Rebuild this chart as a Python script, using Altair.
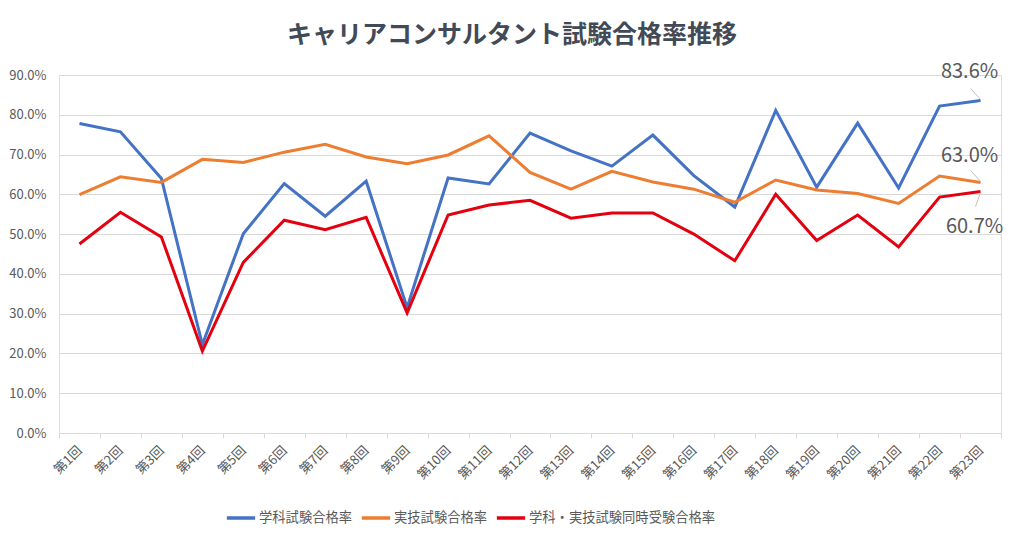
import altair as alt
import pandas as pd

rounds = [f"第{i}回" for i in range(1, 24)]
gakka = [77.8, 75.7, 64.0, 22.2, 50.1, 62.7, 54.5, 63.3, 31.5, 64.1, 62.6, 75.4,
         70.9, 67.1, 74.9, 64.7, 56.8, 81.1, 61.8, 77.9, 61.6, 82.2, 83.6]
jitsugi = [59.9, 64.4, 63.0, 68.8, 68.0, 70.6, 72.6, 69.4, 67.7, 69.9, 74.7, 65.5,
           61.3, 65.8, 63.1, 61.3, 58.0, 63.6, 61.1, 60.2, 57.7, 64.6, 63.0]
douji = [47.5, 55.5, 49.3, 20.6, 42.9, 53.5, 51.1, 54.2, 30.2, 54.8, 57.3, 58.5,
         54.0, 55.3, 55.3, 50.0, 43.3, 60.0, 48.4, 54.8, 46.8, 59.3, 60.7]
series_names = ["学科試験合格率", "実技試験合格率", "学科・実技試験同時受験合格率"]
series_colors = ["#4472C4", "#ED7D31", "#E3000F"]

rows = []
for name, vals in zip(series_names, [gakka, jitsugi, douji]):
    for i, (r, v) in enumerate(zip(rounds, vals)):
        rows.append({"回": r, "order": i, "系列": name, "率": v / 100})
df = pd.DataFrame(rows)

last = pd.DataFrame({
    "回": [rounds[-1]] * 3,
    "系列": series_names,
    "率": [gakka[-1] / 100, jitsugi[-1] / 100, douji[-1] / 100],
    "label": [f"{gakka[-1]:.1f}%", f"{jitsugi[-1]:.1f}%", f"{douji[-1]:.1f}%"],
})

FONT = "Noto Sans CJK JP"
GRAY = "#595959"

xenc = alt.X("回:N", sort=rounds, title=None,
             scale=alt.Scale(type="band", paddingInner=0, paddingOuter=0, domain=rounds),
             axis=alt.Axis(labelAngle=-45, labelAlign="right", labelBaseline="middle",
                           labelFontSize=13, labelColor=GRAY, labelFont=FONT,
                           tickBand="extent", tickColor="#d9d9d9", tickSize=5,
                           domainColor="#d9d9d9", grid=False, labelPadding=10,
                           labelOverlap=False))
yenc = alt.Y("率:Q", title=None,
             scale=alt.Scale(domain=[0, 0.9], nice=False, zero=True),
             axis=alt.Axis(format=".1%", values=[i / 10 for i in range(10)],
                           labelFontSize=13, labelColor=GRAY, labelFont=FONT,
                           ticks=False, domain=False, labelPadding=13,
                           gridColor="#d9d9d9", gridWidth=1, labelOverlap=False))

color = alt.Color("系列:N", sort=series_names,
                  scale=alt.Scale(domain=series_names, range=series_colors),
                  legend=alt.Legend(title=None, orient="none", direction="horizontal",
                                    legendX=166, legendY=427, labelLimit=0,
                                    symbolType="stroke", symbolStrokeWidth=3.5,
                                    symbolSize=800, labelFontSize=13.3, labelColor=GRAY,
                                    labelFont=FONT, columnPadding=1, labelOffset=2))

lines = alt.Chart(df).mark_line(strokeWidth=3, strokeJoin="miter").encode(
    x=xenc, y=yenc, color=color, order="order:Q")

base_last = alt.Chart(last)
lbl_gakka = base_last.transform_filter(alt.datum["系列"] == series_names[0]).mark_text(
    fontSize=20, color=GRAY, font=FONT, dx=-11, dy=-28).encode(x=xenc, y=yenc, text="label:N")
lbl_jitsu = base_last.transform_filter(alt.datum["系列"] == series_names[1]).mark_text(
    fontSize=20, color=GRAY, font=FONT, dx=-11, dy=-26).encode(x=xenc, y=yenc, text="label:N")
lbl_douji = base_last.transform_filter(alt.datum["系列"] == series_names[2]).mark_text(
    fontSize=20, color=GRAY, font=FONT, dx=-6, dy=35).encode(x=xenc, y=yenc, text="label:N")

lead_up = base_last.transform_filter(alt.datum["系列"] != series_names[2]).mark_rule(
    color="#bfbfbf", strokeWidth=1, xOffset=-10, yOffset=-12, x2Offset=0, y2Offset=-1).encode(
    x=xenc, y=yenc, x2="回:N", y2="率:Q")
lead_dn = base_last.transform_filter(alt.datum["系列"] == series_names[2]).mark_rule(
    color="#bfbfbf", strokeWidth=1, xOffset=-5, yOffset=15, x2Offset=0, y2Offset=1).encode(
    x=xenc, y=yenc, x2="回:N", y2="率:Q")

chart = alt.layer(lines, lead_up, lead_dn, lbl_gakka, lbl_jitsu, lbl_douji).properties(
    width=942, height=358,
    title=alt.TitleParams("キャリアコンサルタント試験合格率推移", anchor="middle", dx=-18,
                          offset=14, fontSize=25, font=FONT, fontWeight="bold", color="#414a56"),
    autosize=alt.AutoSizeParams(type="none"),
    padding={"left": 51, "top": 67, "right": 15, "bottom": 95},
).configure_view(stroke=None).configure(background="white")

chart.save("out.html", embed_options={"renderer": "svg", "actions": False})
